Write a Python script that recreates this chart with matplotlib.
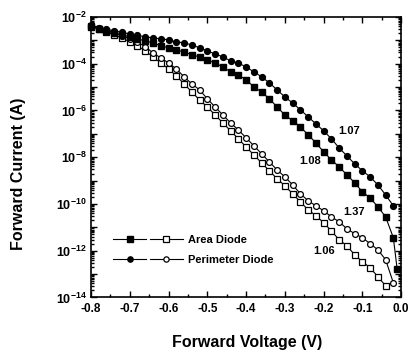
import matplotlib
matplotlib.use("Agg")
import matplotlib.pyplot as plt
import numpy as np
from matplotlib.lines import Line2D
from matplotlib.legend_handler import HandlerTuple
from matplotlib.ticker import LogLocator, FuncFormatter, MultipleLocator, NullFormatter

plt.rcParams['font.family'] = ['Liberation Sans', 'DejaVu Sans']
plt.rcParams['mathtext.default'] = 'regular'

# Forward voltage (V), 0.02 V steps
volts = [-0.80, -0.78, -0.76, -0.74, -0.72, -0.70, -0.68, -0.66, -0.64, -0.62,
         -0.60, -0.58, -0.56, -0.54, -0.52, -0.50, -0.48, -0.46, -0.44, -0.42,
         -0.40, -0.38, -0.36, -0.34, -0.32, -0.30, -0.28, -0.26, -0.24, -0.22,
         -0.20, -0.18, -0.16, -0.14, -0.12, -0.10, -0.08, -0.06, -0.04, -0.02]

# log10 of forward current (A)
area_filled_v = volts + [-0.01]
area_filled = [-2.43, -2.51, -2.60, -2.68, -2.77, -2.85, -2.94, -3.03, -3.11, -3.24,
               -3.32, -3.41, -3.50, -3.62, -3.71, -3.84, -3.97, -4.14, -4.35, -4.48,
               -4.69, -4.99, -5.21, -5.50, -5.85, -6.19, -6.44, -6.70, -7.04, -7.38,
               -7.77, -8.11, -8.41, -8.75, -9.09, -9.48, -9.74, -10.12, -10.55, -11.44,
               -12.80]
area_open = [-2.38, -2.51, -2.64, -2.77, -2.90, -3.07, -3.24, -3.45, -3.71, -3.97,
             -4.22, -4.52, -4.86, -5.21, -5.55, -5.85, -6.19, -6.53, -6.87, -7.21,
             -7.56, -7.90, -8.24, -8.58, -8.92, -9.22, -9.56, -9.91, -10.25, -10.50,
             -10.80, -11.15, -11.53, -11.79, -12.17, -12.47, -12.73, -13.11, -13.50]
perim_filled = [-2.38, -2.47, -2.53, -2.60, -2.66, -2.73, -2.79, -2.85, -2.90, -2.94,
                -2.98, -3.07, -3.11, -3.20, -3.32, -3.46, -3.58, -3.71, -3.88, -3.97,
                -4.14, -4.35, -4.56, -4.82, -5.12, -5.42, -5.68, -5.97, -6.27, -6.57,
                -6.87, -7.21, -7.60, -7.94, -8.28, -8.58, -8.84, -9.18, -9.61, -10.08]
perim_open = [-2.34, -2.47, -2.60, -2.68, -2.81, -2.94, -3.07, -3.28, -3.54, -3.75,
              -3.97, -4.22, -4.56, -4.86, -5.12, -5.50, -5.85, -6.19, -6.53, -6.83,
              -7.17, -7.51, -7.85, -8.20, -8.54, -8.84, -9.18, -9.56, -9.86, -10.08,
              -10.29, -10.55, -10.76, -11.06, -11.27, -11.44, -11.70, -11.96, -12.38, -13.37]

ideality_labels = ["1.07", "1.08", "1.37", "1.06"]
ideality_pos = [(-0.134, -6.87), (-0.235, -8.15), (-0.121, -10.33), (-0.199, -12.0)]

fig = plt.figure(figsize=(4.08, 3.52), dpi=100)
ax = fig.add_axes([0.223, 0.155, 0.76, 0.797])

ms = 4.2
lw = 0.8
kw = dict(color='black', lw=lw, clip_on=False, zorder=3)
ax.plot(volts[:len(area_open)], 10 ** np.array(area_open), marker='s', ms=ms,
        mfc='white', mec='black', mew=0.9, **kw)
ax.plot(volts, 10 ** np.array(perim_open), marker='o', ms=ms,
        mfc='white', mec='black', mew=0.9, **kw)
ax.plot(area_filled_v, 10 ** np.array(area_filled), marker='s', ms=ms,
        mfc='black', mec='black', **kw)
ax.plot(volts, 10 ** np.array(perim_filled), marker='o', ms=ms,
        mfc='black', mec='black', **kw)

ax.set_yscale('log')
ax.set_xlim(-0.8, 0.0)
ax.set_ylim(1e-14, 1e-2)

ax.xaxis.set_major_locator(MultipleLocator(0.1))
ax.xaxis.set_minor_locator(MultipleLocator(0.05))
ax.xaxis.set_major_formatter(FuncFormatter(lambda v, p: f"{v:.1f}".replace("-0.0", "0.0")))

ax.yaxis.set_major_locator(LogLocator(base=10, numticks=30))
ax.yaxis.set_minor_locator(LogLocator(base=10, subs=np.arange(2, 10) * 1.0, numticks=30))
ax.yaxis.set_minor_formatter(NullFormatter())

def yfmt(v, p):
    e = int(round(np.log10(v)))
    if e % 2 == 0:
        return r"$\mathdefault{10^{%d}}$" % e
    return ""
ax.yaxis.set_major_formatter(FuncFormatter(yfmt))

ax.tick_params(which='both', direction='in', top=True, right=True, width=1.0)
ax.tick_params(which='major', length=4)
ax.tick_params(which='minor', length=2.2)
ax.tick_params(axis='x', labelsize=8.5, pad=4)
ax.tick_params(axis='y', labelsize=9, pad=3)
for lab in ax.get_xticklabels() + ax.get_yticklabels():
    lab.set_fontweight('bold')
for s in ax.spines.values():
    s.set_linewidth(1.2)

ax.set_xlabel("Forward Voltage (V)", fontsize=11.5, fontweight='bold')
ax.set_ylabel("Forward Current (A)", fontsize=11.5, fontweight='bold')
ax.xaxis.set_label_coords(0.503, -0.135)
ax.yaxis.set_label_coords(-0.21, 0.44)

for t, (x, y) in zip(ideality_labels, ideality_pos):
    ax.text(x, 10 ** y, t, fontsize=8, fontweight='bold', ha='center', va='center')

h_af = Line2D([], [], color='black', lw=lw, marker='s', ms=3.8, mfc='black', mec='black')
h_ao = Line2D([], [], color='black', lw=lw, marker='s', ms=3.8, mfc='white', mec='black', mew=0.9)
h_pf = Line2D([], [], color='black', lw=lw, marker='o', ms=3.8, mfc='black', mec='black')
h_po = Line2D([], [], color='black', lw=lw, marker='o', ms=3.8, mfc='white', mec='black', mew=0.9)
leg = ax.legend([(h_af, h_ao), (h_pf, h_po)], ["Area Diode", "Perimeter Diode"],
                handler_map={tuple: HandlerTuple(ndivide=None, pad=0.3)},
                loc='upper left', bbox_to_anchor=(0.071, 0.222), frameon=False,
                borderpad=0, borderaxespad=0, handlelength=6.3, handletextpad=0.45,
                labelspacing=0.87, prop={'size': 8, 'weight': 'bold'})

fig.savefig("out.png", dpi=100)
